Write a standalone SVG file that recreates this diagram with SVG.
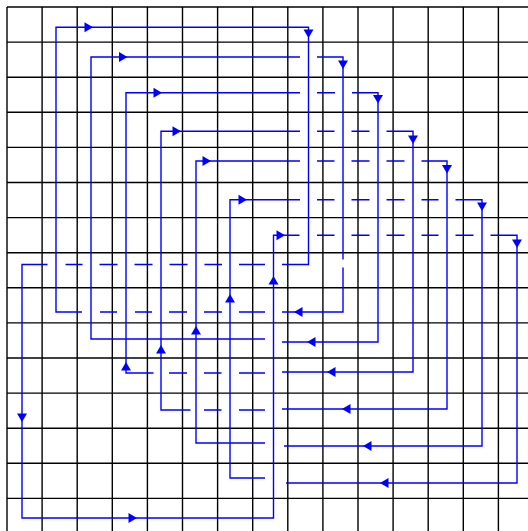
<svg xmlns="http://www.w3.org/2000/svg" xmlns:xlink="http://www.w3.org/1999/xlink" width="528" height="531" viewBox="0 0 528 531">
  <style>
    .grid line { stroke: #000000; stroke-width: 1.4; }
    .edge { fill: none; stroke: #0000ff; stroke-width: 1.4; stroke-linejoin: miter; }
    .ah { fill: #0000ff; stroke: none; }
  </style>
  <defs>
    <path id="ah" class="ah" d="M0,0 L-8.5,-5 L-8.5,5 Z"/>
  </defs>
  <rect x="0" y="0" width="528" height="531" fill="#ffffff"/>
  <g id="grid" class="grid">
    <line x1="7" y1="7" x2="7" y2="531"/>
    <line x1="42.1" y1="7" x2="42.1" y2="531"/>
    <line x1="77.2" y1="7" x2="77.2" y2="531"/>
    <line x1="112.3" y1="7" x2="112.3" y2="531"/>
    <line x1="147.4" y1="7" x2="147.4" y2="531"/>
    <line x1="182.5" y1="7" x2="182.5" y2="531"/>
    <line x1="217.6" y1="7" x2="217.6" y2="531"/>
    <line x1="252.7" y1="7" x2="252.7" y2="531"/>
    <line x1="287.8" y1="7" x2="287.8" y2="531"/>
    <line x1="322.9" y1="7" x2="322.9" y2="531"/>
    <line x1="358" y1="7" x2="358" y2="531"/>
    <line x1="393.1" y1="7" x2="393.1" y2="531"/>
    <line x1="428.2" y1="7" x2="428.2" y2="531"/>
    <line x1="463.3" y1="7" x2="463.3" y2="531"/>
    <line x1="498.4" y1="7" x2="498.4" y2="531"/>
    <line x1="7" y1="7" x2="528" y2="7"/>
    <line x1="7" y1="42.1" x2="528" y2="42.1"/>
    <line x1="7" y1="77.2" x2="528" y2="77.2"/>
    <line x1="7" y1="112.3" x2="528" y2="112.3"/>
    <line x1="7" y1="147.4" x2="528" y2="147.4"/>
    <line x1="7" y1="182.5" x2="528" y2="182.5"/>
    <line x1="7" y1="217.6" x2="528" y2="217.6"/>
    <line x1="7" y1="252.7" x2="528" y2="252.7"/>
    <line x1="7" y1="287.8" x2="528" y2="287.8"/>
    <line x1="7" y1="322.9" x2="528" y2="322.9"/>
    <line x1="7" y1="358" x2="528" y2="358"/>
    <line x1="7" y1="393.1" x2="528" y2="393.1"/>
    <line x1="7" y1="428.2" x2="528" y2="428.2"/>
    <line x1="7" y1="463.3" x2="528" y2="463.3"/>
    <line x1="7" y1="498.4" x2="528" y2="498.4"/>
  </g>
  <g id="connectors">
    <!-- loop A -->
    <path class="edge" d="M82,312 H56 V27.3 H308.5 V264.5 H282 M265,264.5 H239 M222,264.5 H204.5 M187.5,264.5 H169.5 M152.5,264.5 H134.5 M117.5,264.5 H99.5 M82.5,264.5 H65.5 M47.5,264.5 H22 V518 H273.5 V235.3 H299.5 M317,235.3 H334.5 M351.5,235.3 H369.5 M386.5,235.3 H404.5 M421.5,235.3 H438.5 M455.5,235.3 H473.5 M490.5,235.3 H517 V483 H286"/>
    <path class="edge" d="M265,312 H239 M222,312 H204 M187,312 H169 M152,312 H135 M117,312 H100"/>
    <!-- loop B -->
    <path class="edge" d="M265,339 H91 V57 H300 M317,57 H343 V259.5 M343,267.5 V312 H282"/>
    <!-- loop C -->
    <path class="edge" d="M265,373 H239 M221.5,373 H204 M187,373 H169 M153.5,373 H126 V92.7 H300 M317,92.7 H335 M352,92.7 H378 V342 H282"/>
    <!-- loop D -->
    <path class="edge" d="M265,410 H239 M221.5,410 H204 M190.5,410 H161 V131.3 H300 M317,131.3 H334.5 M351.5,131.3 H369.5 M386.5,131.3 H413 V372 H282"/>
    <!-- loop E -->
    <path class="edge" d="M265,443 H196 V161 H300 M317,161 H334.5 M351.5,161 H369.5 M386.5,161 H404.5 M421.5,161 H447 V409 H282"/>
    <!-- loop F -->
    <path class="edge" d="M265,478 H230 V199.7 H300 M317,199.7 H334.5 M351.5,199.7 H369.5 M386.5,199.7 H404.5 M421.5,199.7 H438.5 M455.5,199.7 H482 V446 H284"/>
    <!-- arrowheads: right -->
    <use xlink:href="#ah" href="#ah" transform="translate(93,27.3)"/>
    <use xlink:href="#ah" href="#ah" transform="translate(127.5,57)"/>
    <use xlink:href="#ah" href="#ah" transform="translate(162,92.7)"/>
    <use xlink:href="#ah" href="#ah" transform="translate(181,131.3)"/>
    <use xlink:href="#ah" href="#ah" transform="translate(211,161)"/>
    <use xlink:href="#ah" href="#ah" transform="translate(247,199.7)"/>
    <use xlink:href="#ah" href="#ah" transform="translate(285,235.3)"/>
    <use xlink:href="#ah" href="#ah" transform="translate(137,518)"/>
    <!-- down -->
    <use xlink:href="#ah" href="#ah" transform="translate(308.5,38) rotate(90)"/>
    <use xlink:href="#ah" href="#ah" transform="translate(343,69) rotate(90)"/>
    <use xlink:href="#ah" href="#ah" transform="translate(378,103.5) rotate(90)"/>
    <use xlink:href="#ah" href="#ah" transform="translate(413,144) rotate(90)"/>
    <use xlink:href="#ah" href="#ah" transform="translate(447,173.5) rotate(90)"/>
    <use xlink:href="#ah" href="#ah" transform="translate(482,211) rotate(90)"/>
    <use xlink:href="#ah" href="#ah" transform="translate(517,248) rotate(90)"/>
    <use xlink:href="#ah" href="#ah" transform="translate(22,422) rotate(90)"/>
    <!-- left -->
    <use xlink:href="#ah" href="#ah" transform="translate(294,312) rotate(180)"/>
    <use xlink:href="#ah" href="#ah" transform="translate(307,342) rotate(180)"/>
    <use xlink:href="#ah" href="#ah" transform="translate(327,372) rotate(180)"/>
    <use xlink:href="#ah" href="#ah" transform="translate(342,409) rotate(180)"/>
    <use xlink:href="#ah" href="#ah" transform="translate(363,446) rotate(180)"/>
    <use xlink:href="#ah" href="#ah" transform="translate(380,483) rotate(180)"/>
    <!-- up -->
    <use xlink:href="#ah" href="#ah" transform="translate(126,362) rotate(-90)"/>
    <use xlink:href="#ah" href="#ah" transform="translate(161,345) rotate(-90)"/>
    <use xlink:href="#ah" href="#ah" transform="translate(196,326) rotate(-90)"/>
    <use xlink:href="#ah" href="#ah" transform="translate(230,294) rotate(-90)"/>
    <use xlink:href="#ah" href="#ah" transform="translate(273.5,276) rotate(-90)"/>
  </g>
</svg>
